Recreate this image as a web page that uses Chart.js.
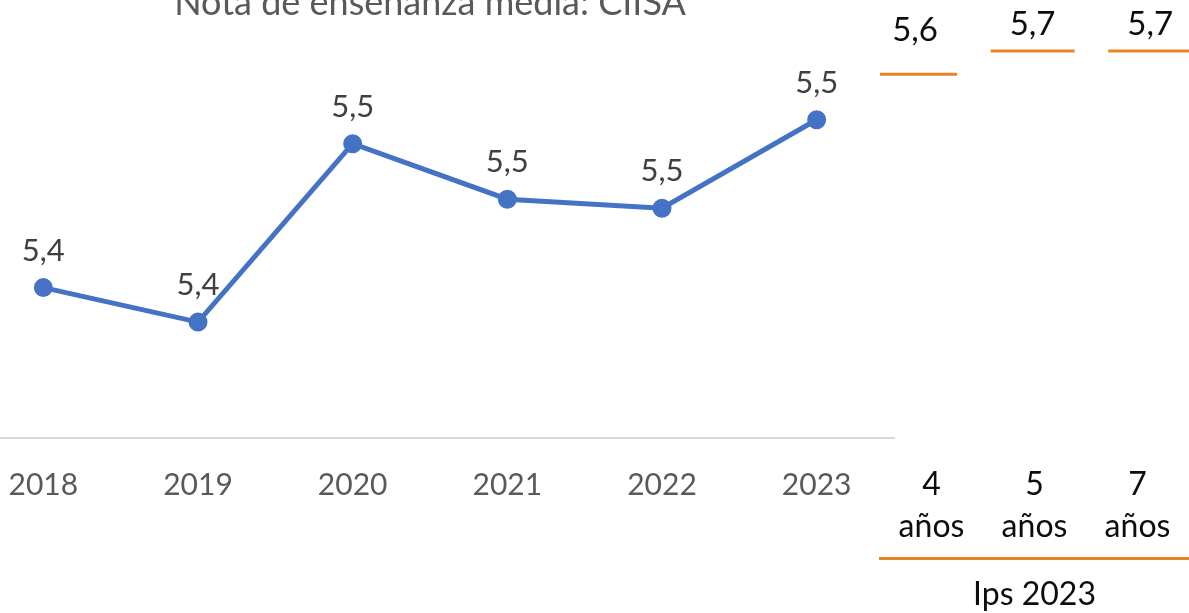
<!DOCTYPE html>
<html lang="es">
<head>
    <meta charset="UTF-8">
    <title>Nota de enseñanza media</title>
    <script src="https://cdn.jsdelivr.net/npm/chart.js"></script>
    <style>
        html, body { margin: 0; padding: 0; background: #fff; }
        body { width: 1189px; height: 613px; overflow: hidden; position: relative; }
        /* boxes are wider than the visible area because chart.js pads the sides for the point radius */
        #mainBox { position: absolute; left: -46px; top: -20px; width: 952px; height: 552px; }
        #ipsBox { position: absolute; left: 835px; top: 0; width: 399px; height: 630px; }
    </style>
</head>
<body>
    <div id="mainBox"><canvas id="mainChart"></canvas></div>
    <div id="ipsBox"><canvas id="ipsChart"></canvas></div>

    <script>
        // Nota de enseñanza media por año
        const years = ['2018', '2019', '2020', '2021', '2022', '2023'];
        const notaMedia = [5.423, 5.400, 5.519, 5.482, 5.476, 5.535];

        // Ips 2023 (panel derecho)
        const ipsLabels = [['4', 'años'], ['5', 'años'], ['7', 'años']];
        const ipsValues = [5.6, 5.7, 5.7];
        const ipsGroup = ['Ips 2023'];

        const fontName = 'Lato, "Open Sans", sans-serif';

        // simple value labels, "5,4" style
        const valueLabels = {
            id: 'valueLabels',
            afterDatasetsDraw(chart, args, opts) {
                const ctx = chart.ctx;
                ctx.save();
                ctx.font = opts.size + 'px ' + fontName;
                ctx.fillStyle = opts.color;
                ctx.textAlign = 'center';
                ctx.textBaseline = 'middle';
                chart.data.datasets.forEach((ds, i) => {
                    const meta = chart.getDatasetMeta(i);
                    meta.data.forEach((pt, j) => {
                        const raw = ds.data[j];
                        const v = typeof raw === 'object' ? raw.y : raw;
                        const y = Math.max(pt.y - opts.offset, opts.minY);
                        ctx.fillText(v.toFixed(1).replace('.', ','), pt.x, y);
                    });
                });
                ctx.restore();
            }
        };

        new Chart(document.getElementById('mainChart'), {
            type: 'line',
            data: {
                labels: years,
                datasets: [{
                    data: notaMedia,
                    borderColor: '#4472C4',
                    backgroundColor: '#4472C4',
                    borderWidth: 5,
                    pointRadius: 7,
                    pointBackgroundColor: '#4472C4',
                    pointBorderColor: '#4472C4',
                    tension: 0
                }]
            },
            options: {
                responsive: true,
                maintainAspectRatio: false,
                animation: false,
                layout: { padding: 0 },
                plugins: {
                    legend: { display: false },
                    tooltip: { enabled: false },
                    title: {
                        display: true,
                        text: 'Nota de enseñanza media: CIISA',
                        color: '#595959',
                        font: { family: fontName, size: 36, weight: 'normal' },
                        padding: { top: 2, bottom: 5 }
                    },
                    valueLabels: { color: '#404040', size: 31, offset: 37, minY: 0 }
                },
                scales: {
                    x: {
                        offset: true,
                        grid: { display: false, drawTicks: false, offset: true },
                        border: { display: true, color: '#D9D9D9', width: 2 },
                        ticks: {
                            color: '#595959',
                            font: { family: fontName, size: 30 },
                            padding: 29
                        }
                    },
                    y: {
                        display: false,
                        min: 5.3227,
                        max: 5.5947
                    }
                }
            },
            plugins: [valueLabels]
        });

        new Chart(document.getElementById('ipsChart'), {
            type: 'line',
            data: {
                labels: ipsLabels,
                datasets: [{
                    data: ipsValues.map((v, i) => ({ x: i, y: v })),
                    xAxisID: 'xd',
                    showLine: false,
                    pointStyle: 'line',
                    pointRadius: 42,
                    pointBorderWidth: 3,
                    pointBorderColor: '#E8832A',
                    borderColor: '#E8832A'
                }]
            },
            options: {
                responsive: true,
                maintainAspectRatio: false,
                animation: false,
                layout: { padding: 0 },
                plugins: {
                    legend: { display: false },
                    tooltip: { enabled: false },
                    valueLabels: { color: '#0D0D0D', size: 33, offset: 44, minY: 24 }
                },
                scales: {
                    x: {
                        type: 'category',
                        position: 'bottom',
                        weight: 0,
                        offset: true,
                        grid: { display: false, drawTicks: false, offset: true },
                        border: { display: false },
                        ticks: {
                            color: '#0D0D0D',
                            font: { family: fontName, size: 32, lineHeight: 1.3 },
                            padding: 11,
                            maxRotation: 0
                        }
                    },
                    grp: {
                        type: 'category',
                        position: 'bottom',
                        weight: 1,
                        offset: true,
                        labels: ipsGroup,
                        grid: { display: false, drawTicks: false, offset: true },
                        border: { display: true, color: '#E8832A', width: 3 },
                        ticks: {
                            color: '#0D0D0D',
                            font: { family: fontName, size: 32, lineHeight: 1.3 },
                            padding: 15
                        }
                    },
                    xd: {
                        type: 'linear',
                        display: false,
                        min: -0.298,
                        max: 2.33
                    },
                    y: {
                        display: false,
                        min: 3.961,
                        max: 5.726
                    }
                }
            },
            plugins: [valueLabels]
        });
    </script>
</body>
</html>
